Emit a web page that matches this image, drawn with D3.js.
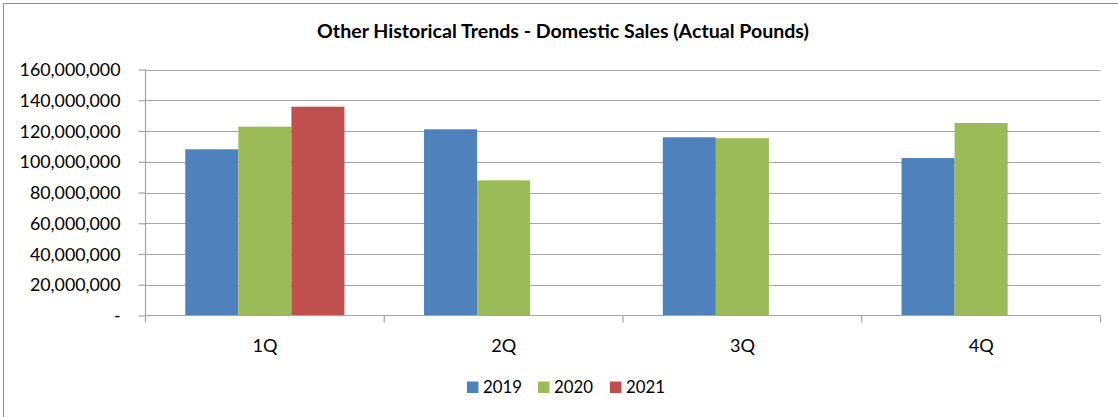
<!DOCTYPE html>
<html>
<head>
<meta charset="utf-8">
<script src="https://cdn.jsdelivr.net/npm/d3@7"></script>
<style>
  html, body { margin: 0; padding: 0; background: #fff; }
  svg { display: block; }
  text { font-family: Lato, "Open Sans", sans-serif; fill: #000; }
</style>
</head>
<body>
<svg id="chart" width="1118" height="417"></svg>
<script>
const categories = ["1Q", "2Q", "3Q", "4Q"];
const seriesNames = ["2019", "2020", "2021"];
const values2019 = [108100000, 121100000, 115900000, 102400000];
const values2020 = [122800000, 87900000, 115300000, 125200000];
const values2021 = [135800000, null, null, null];
const yTicks = [0, 20000000, 40000000, 60000000, 80000000, 100000000, 120000000, 140000000, 160000000];
const titleText = "Other Historical Trends - Domestic Sales (Actual Pounds)";
const colors = ["#4F81BD", "#9BBB59", "#C0504D"];

const seriesValues = [values2019, values2020, values2021];
const svg = d3.select("#chart");

const plot = { left: 145.5, right: 1100.5, top: 69.5, bottom: 315.5 };

// outer border (right/bottom cropped in reference)
svg.append("rect").attr("x", 3.5).attr("y", 3.5).attr("width", 1300).attr("height", 600)
  .attr("fill", "none").attr("stroke", "#8e8e8e").attr("stroke-width", 1);

const x0 = d3.scaleBand().domain(categories).range([plot.left, plot.right]).paddingInner(0).paddingOuter(0);
const x1 = d3.scaleBand().domain(seriesNames).range([0, x0.bandwidth()]).paddingInner(0).paddingOuter(0.75);
const y = d3.scaleLinear().domain([0, 160000000]).range([plot.bottom, plot.top]);

function fit(sel, target) {
  sel.each(function() {
    const el = this;
    const fs = parseFloat(el.getAttribute("font-size"));
    const w = el.getComputedTextLength();
    if (w > 0) el.setAttribute("font-size", (fs * target / w).toFixed(2));
  });
}

// gridlines
svg.append("g").selectAll("line").data(yTicks.filter(d => d > 0)).join("line")
  .attr("x1", plot.left).attr("x2", plot.right)
  .attr("y1", d => Math.round(y(d)) + 0.5).attr("y2", d => Math.round(y(d)) + 0.5)
  .attr("stroke", "#a6a6a6").attr("stroke-width", 1.2);

// bars
const rows = [];
categories.forEach((c, i) => seriesNames.forEach((s, j) => {
  if (seriesValues[j][i] != null) rows.push({ c, s, v: seriesValues[j][i], color: colors[j] });
}));
svg.append("g").selectAll("rect").data(rows).join("rect")
  .attr("x", d => x0(d.c) + x1(d.s))
  .attr("width", x1.bandwidth())
  .attr("y", d => y(d.v))
  .attr("height", d => y(0) - y(d.v))
  .attr("fill", d => d.color);

// y axis
const fmt = d => d === 0 ? "-" : d3.format(",")(d);
const yAxis = svg.append("g").attr("transform", `translate(${plot.left},0)`)
  .call(d3.axisLeft(y).tickValues(yTicks).tickFormat(fmt).tickSize(7).tickPadding(18));
yAxis.select(".domain").attr("stroke", "#a6a6a6").attr("stroke-width", 1.2).attr("d", `M0,${plot.top}V${plot.bottom}`);
yAxis.selectAll(".tick line").attr("stroke", "#a6a6a6").attr("stroke-width", 1.2);
yAxis.selectAll(".tick text").attr("font-size", 17).attr("font-family", "Lato").attr("fill", "#000")
  .attr("dy", "0.35em");

// x axis
const xAxisG = svg.append("g").attr("transform", `translate(0,${plot.bottom})`);
xAxisG.append("line").attr("x1", plot.left).attr("x2", plot.right).attr("y1", 0).attr("y2", 0)
  .attr("stroke", "#a6a6a6").attr("stroke-width", 1.2);
const bounds = categories.map(c => x0(c)).concat([plot.right]);
xAxisG.selectAll("line.tk").data(bounds).join("line").attr("class", "tk")
  .attr("x1", d => d).attr("x2", d => d).attr("y1", 0).attr("y2", 7)
  .attr("stroke", "#a6a6a6").attr("stroke-width", 1.2);
const xl = xAxisG.selectAll("text").data(categories).join("text")
  .attr("x", d => x0(d) + x0.bandwidth() / 2).attr("y", 36.5)
  .attr("text-anchor", "middle").attr("font-size", 19).text(d => d);

// title
const title = svg.append("text").attr("x", 563).attr("y", 38).attr("text-anchor", "middle")
  .attr("font-size", 17).attr("font-weight", "bold").text(titleText);
fit(title, 492);

// legend
const legendX = [467, 538, 610];
const lg = svg.append("g");
seriesNames.forEach((s, j) => {
  lg.append("rect").attr("x", legendX[j]).attr("y", 381.5).attr("width", 11.5).attr("height", 11.5).attr("fill", colors[j]);
  lg.append("text").attr("x", legendX[j] + 16).attr("y", 393).attr("font-size", 18).text(s)
    .call(t => fit(t, 39));
});

// fit y labels to "160,000,000" width ~101px
const yl = yAxis.selectAll(".tick text");
let maxNode = null, maxW = 0;
yl.each(function() { const w = this.getComputedTextLength(); if (w > maxW) { maxW = w; maxNode = this; } });
const yfs = 17 * 101 / maxW;
yl.attr("font-size", yfs.toFixed(2));
fit(xl.filter((d, i) => i === 0), 25);
xl.attr("font-size", xl.filter((d, i) => i === 0).attr("font-size"));
</script>
</body>
</html>
